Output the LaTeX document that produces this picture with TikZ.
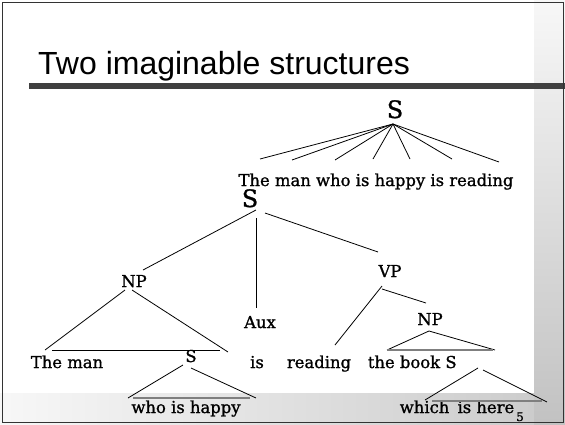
\documentclass[tikz,border=0pt]{standalone}
\usepackage{fontspec}
\setmainfont[FakeBold=1.1]{DejaVu Serif}
\newfontfamily\titlefont{Liberation Sans}
\definecolor{bardark}{HTML}{404040}
\definecolor{framegray}{HTML}{333333}
\definecolor{rulegray}{HTML}{7F7F7F}
\begin{document}
\begin{tikzpicture}[x=1pt,y=-1pt,
  word/.style={anchor=base,inner sep=0pt,font=\fontsize{16.4}{19}\selectfont},
  bigcat/.style={anchor=base,inner sep=0pt,font=\fontsize{24}{28}\selectfont},
  branch/.style={line width=0.8pt,black},
  groundrule/.style={line width=1.4pt,rulegray},
]
% slide background
\useasboundingbox (0,0) rectangle (565,424);
\fill[white] (0,0) rectangle (565,424);
\shade[left color=gray!6, right color=gray!42] (0,393) rectangle (565,424);
\shade[top color=gray!6, bottom color=gray!48] (534,0) rectangle (565,424);
\fill[bardark] (29,83) rectangle (565,89);
\draw[framegray,line width=1pt] (2,2) rectangle (563.5,422.5);

% title
\node[anchor=base west,inner sep=0pt,font=\titlefont\fontsize{32}{36}\selectfont]
  (title) at (38,74) {Two imaginable structures};

% flat structure
\node[bigcat] (s1) at (395,118) {S};
\node[word] (flat) at (376,186) {The man who is happy is reading};
\coordinate (apex) at (393,124);
\foreach \i/\x/\y in {1/260/159,2/292/160,3/335/160,4/373/159,5/410/159,6/452/159,7/499/162}
  \coordinate (f\i) at (\x,\y);
\foreach \i in {1,...,7}
  \draw[branch] (apex) -- (f\i);

% hierarchical structure: labels
\node[bigcat] (s2) at (250,207) {S};
\node[word] (np1) at (134,287) {NP};
\node[word] (aux) at (260,328) {Aux};
\node[word] (vp) at (390,277) {VP};
\node[word] (np2) at (430,325) {NP};
\node[word] (theman) at (67,368) {The man};
\node[word] (s3) at (191,362) {S};
\node[word] (is) at (257,368) {is};
\node[word] (reading) at (319,368) {reading};
\node[word] (thebook) at (404,368) {the book};
\node[word] (s4) at (451,368) {S};
\node[word] (whohappy) at (186,413) {who is happy};
\node[word] (whichhere) at (457,413) {which\hspace{3pt} is here};
\node[anchor=base,inner sep=0pt,font=\fontsize{12}{14}\selectfont] (pagenum) at (520,421) {5};

% branch end points
\coordinate (s2a) at (256,210);  \coordinate (np1t) at (143,270);
\coordinate (s2b) at (256,218);  \coordinate (auxt) at (256,308);
\coordinate (s2c) at (265,213);  \coordinate (vpt) at (378,252);
\coordinate (np1a) at (125,290); \coordinate (np1l) at (45,350);
\coordinate (np1b) at (132,290); \coordinate (np1r) at (228,352);
\coordinate (np1bl) at (52,350); \coordinate (np1br) at (220,350);
\coordinate (s3a) at (183,365);  \coordinate (s3l) at (128,398);
\coordinate (s3b) at (191,368);  \coordinate (s3r) at (256,398);
\coordinate (s3gl) at (133,398); \coordinate (s3gr) at (250,398);
\coordinate (vpa) at (382,286);  \coordinate (vpl) at (335,345);
\coordinate (vpb) at (382,289);  \coordinate (vpr) at (426,303);
\coordinate (np2a) at (429,331); \coordinate (np2l) at (387,350);
\coordinate (np2r) at (495,350);
\coordinate (np2gl) at (387,350); \coordinate (np2gr) at (493,350);
\coordinate (s4a) at (478,368);  \coordinate (s4l) at (425,400);
\coordinate (s4b) at (483,370);  \coordinate (s4r) at (547,402);
\coordinate (s4gl) at (432,401); \coordinate (s4gr) at (542,401);

% branches
\draw[branch] (s2a) -- (np1t);
\draw[branch] (s2b) -- (auxt);
\draw[branch] (s2c) -- (vpt);
\draw[branch] (np1a) -- (np1l);
\draw[branch] (np1b) -- (np1r);
\draw[branch] (np1bl) -- (np1br);
\draw[branch] (s3a) -- (s3l);
\draw[branch] (s3b) -- (s3r);
\draw[groundrule] (s3gl) -- (s3gr);
\draw[branch] (vpa) -- (vpl);
\draw[branch] (vpb) -- (vpr);
\draw[branch] (np2a) -- (np2l);
\draw[branch] (np2a) -- (np2r);
\draw[groundrule] (np2gl) -- (np2gr);
\draw[branch] (s4a) -- (s4l);
\draw[branch] (s4b) -- (s4r);
\draw[groundrule] (s4gl) -- (s4gr);
\end{tikzpicture}
\end{document}
